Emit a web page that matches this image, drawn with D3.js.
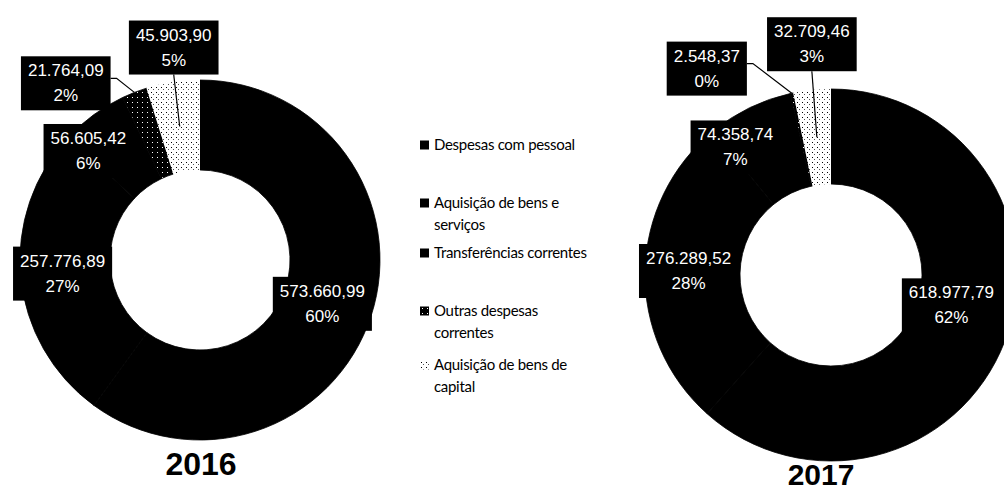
<!DOCTYPE html>
<html><head><meta charset="utf-8">
<script src="https://cdn.jsdelivr.net/npm/d3@7"></script>
<style>
html,body{margin:0;padding:0;background:#fff;}
svg{display:block;}
</style></head>
<body>
<svg id="chart" width="1004" height="491"></svg>
<script>
// ---- data ----
const categories = ["Despesas com pessoal","Aquisição de bens e serviços","Transferências correntes","Outras despesas correntes","Aquisição de bens de capital"];
const legendLines = [["Despesas com pessoal"],["Aquisição de bens e","serviços"],["Transferências correntes"],["Outras despesas","correntes"],["Aquisição de bens de","capital"]];
const values2016 = [573660.99, 257776.89, 56605.42, 21764.09, 45903.90];
const values2017 = [618977.79, 276289.52, 74358.74, 2548.37, 32709.46];
const years = ["2016","2017"];

// ---- layout (not data) ----
const charts = [
  {year: years[0], values: values2016, cx: 200, cy: 260, r0: 90, r1: 180, titleX: 201, titleY: 475, titleSize: 32,
   shift: [[-6,1],[-3,0],[-32,-1],[-85,-52],[-6,-80]]},
  {year: years[1], values: values2017, cx: 831, cy: 275, r0: 91, r1: 186, titleX: 821, titleY: 485, titleSize: 30,
   shift: [[-9,-20],[-4,-2],[-35,-4],[-95,-72],[-5,-94]]}
];
const legendY = [145, 203, 253, 311, 365];

const svg = d3.select("#chart");
const defs = svg.append("defs");
// dense dark pattern
const p1 = defs.append("pattern").attr("id","patDark").attr("width",5).attr("height",5).attr("patternUnits","userSpaceOnUse");
p1.append("rect").attr("width",5).attr("height",5).attr("fill","#000");
p1.append("rect").attr("x",2).attr("y",2).attr("width",1).attr("height",1).attr("fill","#fff");
// sparse light pattern
const p2 = defs.append("pattern").attr("id","patLight").attr("width",5).attr("height",5).attr("patternUnits","userSpaceOnUse");
p2.append("rect").attr("width",5).attr("height",5).attr("fill","#fff");
p2.append("rect").attr("x",1).attr("y",2).attr("width",1).attr("height",1).attr("fill","#000");
p2.append("rect").attr("x",3).attr("y",4).attr("width",1).attr("height",1).attr("fill","#555");

const color = d3.scaleOrdinal().domain(categories)
  .range(["#000","#000","#000","url(#patDark)","url(#patLight)"]);
const edge = d3.scaleOrdinal().domain(categories)
  .range(["#000","#000","#000","#000","none"]);

const locale = d3.formatLocale({decimal: ",", thousands: ".", grouping: [3], currency: ["",""]});
const fmt = locale.format(",.2f");

function pctLargestRemainder(vals){
  const sum = d3.sum(vals);
  const raw = vals.map(v => v / sum * 100);
  const fl = raw.map(Math.floor);
  let left = 100 - d3.sum(fl);
  const order = raw.map((r,i)=>[r - fl[i], i]).sort((a,b)=>b[0]-a[0]);
  for (let k = 0; k < left; k++) fl[order[k][1]] += 1;
  return fl;
}

const pie = d3.pie().sort(null).value(d => d.value);

charts.forEach(c => {
  const data = categories.map((k,i)=>({key:k, value:c.values[i], i}));
  const arcs = pie(data);
  const pcts = pctLargestRemainder(c.values);
  const arc = d3.arc().innerRadius(c.r0).outerRadius(c.r1);
  const g = svg.append("g").attr("transform", `translate(${c.cx},${c.cy})`);
  g.selectAll("path.slice").data(arcs).join("path")
    .attr("class","slice")
    .attr("d", arc)
    .attr("fill", d => color(d.data.key))
    .attr("stroke", d => edge(d.data.key))
    .attr("stroke-width", 0.8);

  const mid = d3.arc().innerRadius((c.r0+c.r1)/2).outerRadius((c.r0+c.r1)/2);
  const outer = d3.arc().innerRadius(c.r1).outerRadius(c.r1);
  const lab = g.selectAll("g.lab").data(arcs).join("g").attr("class","lab");
  lab.each(function(d, idx){
    const sel = d3.select(this);
    const cen = mid.centroid(d);
    const lx = cen[0] + c.shift[idx][0], ly = cen[1] + c.shift[idx][1];
    const t = sel.append("text")
      .attr("text-anchor","middle")
      .attr("font-family","'Liberation Sans', Arial, sans-serif")
      .attr("font-size", 17)
      .attr("fill","#fff");
    t.append("tspan").attr("x", lx).attr("y", ly - 6).text(fmt(d.data.value));
    t.append("tspan").attr("x", lx).attr("y", ly + 19).text(pcts[idx] + "%");
    const bb = t.node().getBBox();
    sel.insert("rect","text")
      .attr("x", bb.x - 7).attr("y", bb.y - 5)
      .attr("width", bb.width + 14).attr("height", bb.height + 10)
      .attr("fill","#000");
    // leader lines for moved small slices
    if (idx === 3) {
      const o = outer.centroid(d);
      sel.insert("path","rect")
        .attr("d", `M${bb.x + bb.width + 7},${ly - 4}H${bb.x + bb.width + 13}L${o[0]},${o[1]}`)
        .attr("fill","none").attr("stroke","#000").attr("stroke-width",1.2);
    }
    if (idx === 4) {
      sel.insert("path","rect")
        .attr("d", `M${lx},${bb.y + bb.height + 5}L${cen[0]},${cen[1]}`)
        .attr("fill","none").attr("stroke","#000").attr("stroke-width",1.2);
    }
  });

  svg.append("text")
    .attr("x", c.titleX).attr("y", c.titleY)
    .attr("text-anchor","middle")
    .attr("font-family","'Liberation Sans', Arial, sans-serif")
    .attr("font-weight","bold").attr("font-size", c.titleSize)
    .attr("fill","#000").text(c.year);
});

// legend
const lg = svg.append("g");
const items = lg.selectAll("g").data(categories).join("g")
  .attr("transform", (d,i) => `translate(420,${legendY[i]})`);
items.append("rect").attr("x",0).attr("y",-4.5).attr("width",9).attr("height",9)
  .attr("fill", d => color(d));
items.append("text")
  .attr("font-family","Lato, 'Open Sans', sans-serif")
  .attr("font-size", 15)
  .attr("fill","#000")
  .selectAll("tspan").data((d,i)=>legendLines[i]).join("tspan")
  .attr("x", 14).attr("y", (d,j)=> j*22).attr("dy","0.35em")
  .attr("letter-spacing", -0.3)
  .text(d=>d);
</script>
</body></html>
